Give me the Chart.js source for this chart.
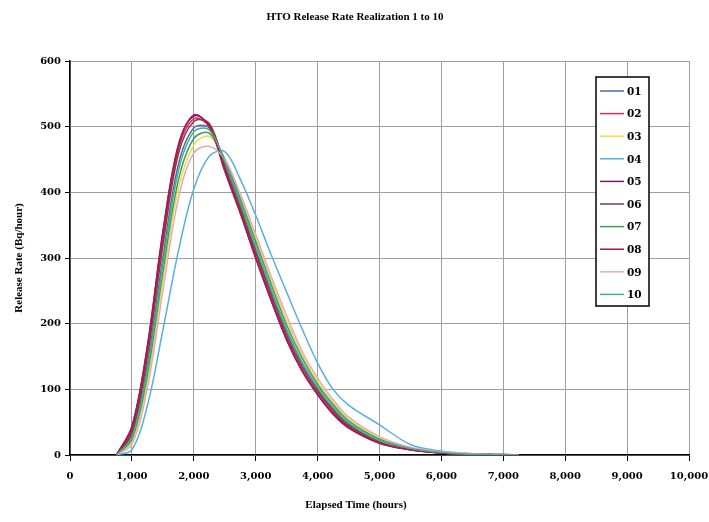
<!DOCTYPE html>
<html>
<head>
<meta charset="utf-8">
<script src="https://cdn.jsdelivr.net/npm/chart.js@4.4.1/dist/chart.umd.min.js"></script>
<style>
  html, body { margin: 0; padding: 0; background: #fff; }
  #wrap { width: 709px; height: 522px; position: relative; }
</style>
</head>
<body>
<div id="wrap"><canvas id="c"></canvas></div>
<script>
// elapsed time (hours), shared by all realizations
const times = [750, 1000, 1250, 1500, 1750, 2000, 2250, 2500, 2750, 3000, 3250, 3500, 3750, 4000, 4250, 4500, 5000, 5500, 6000, 6500, 7000, 7250];

const seriesNames = ['01', '02', '03', '04', '05', '06', '07', '08', '09', '10'];
const seriesColors = ['#4a6fa5', '#d0306a', '#e8e040', '#58b0e0', '#702070', '#8a3a3a', '#3aa060', '#b01850', '#e8a8b8', '#50a890'];

// release rate (Bq/hour) per realization
const r01 = [0, 30, 138, 300, 442, 498, 498, 445, 380, 312, 248, 187, 138, 100, 70, 47, 21, 9, 3, 1, 0, 0];
const r02 = [0, 38, 158, 328, 465, 512, 500, 436, 372, 303, 238, 178, 130, 94, 65, 43, 19, 8, 3, 1, 0, 0];
const r03 = [0, 20, 112, 265, 405, 472, 485, 452, 395, 330, 266, 205, 153, 112, 80, 55, 26, 11, 4, 1, 0, 0];
const r04 = [0, 8, 75, 190, 310, 405, 455, 462, 420, 365, 305, 248, 192, 140, 100, 76, 46, 16, 6, 2, 0, 0];
const r05 = [0, 42, 165, 338, 472, 516, 502, 435, 370, 300, 235, 175, 128, 92, 63, 42, 18, 8, 3, 1, 0, 0];
const r06 = [0, 34, 150, 318, 458, 508, 505, 440, 375, 308, 243, 182, 134, 97, 68, 45, 20, 9, 3, 1, 1, 0];
const r07 = [0, 24, 122, 278, 418, 482, 490, 450, 390, 325, 260, 198, 148, 108, 77, 52, 24, 10, 4, 1, 0, 0];
const r08 = [0, 44, 166, 340, 470, 518, 500, 432, 368, 300, 236, 176, 128, 92, 62, 41, 18, 8, 3, 1, 0, 0];
const r09 = [0, 16, 102, 250, 390, 460, 470, 450, 398, 336, 272, 212, 158, 117, 84, 58, 28, 12, 5, 2, 0, 0];
const r10 = [0, 27, 130, 290, 432, 492, 495, 447, 385, 318, 253, 192, 142, 104, 73, 49, 22, 10, 4, 1, 0, 0];
const seriesValues = [r01, r02, r03, r04, r05, r06, r07, r08, r09, r10];

const xTicks = [0, 1000, 2000, 3000, 4000, 5000, 6000, 7000, 8000, 9000, 10000];
const yTicks = [0, 100, 200, 300, 400, 500, 600];

const chartTitle = 'HTO Release Rate Realization 1 to 10';
const xTitle = 'Elapsed Time (hours)';
const yTitle = 'Release Rate (Bq/hour)';
const FONT = '"Liberation Serif", "Times New Roman", serif';
const TICK_FONT = '"DejaVu Serif", serif';

// chart title and x-axis title, both centred on the page like the original
const titlePlugin = {
  id: 'pageTitles',
  afterDraw(chart) {
    const ctx = chart.ctx;
    ctx.save();
    ctx.font = 'bold 11px ' + FONT;
    ctx.fillStyle = '#000';
    ctx.textAlign = 'center';
    ctx.textBaseline = 'middle';
    ctx.fillText(chartTitle, 355, 17);
    ctx.fillText(xTitle, 356, 505);
    ctx.restore();
  }
};

// boxed legend inside the plot, Excel style
const boxLegend = {
  id: 'boxLegend',
  afterDraw(chart) {
    const ctx = chart.ctx;
    const a = chart.chartArea;
    const left = a.right - 93;
    const top = a.top + 16;
    const w = 53, rowH = 22.6;
    const h = rowH * chart.data.datasets.length + 3;
    ctx.save();
    ctx.fillStyle = '#fff';
    ctx.fillRect(left, top, w, h);
    ctx.lineWidth = 1.5;
    ctx.strokeStyle = '#000';
    ctx.strokeRect(left, top, w, h);
    ctx.font = 'bold 10.5px ' + TICK_FONT;
    ctx.textBaseline = 'middle';
    ctx.textAlign = 'left';
    chart.data.datasets.forEach((ds, i) => {
      const y = top + 14 + i * rowH;
      ctx.beginPath();
      ctx.moveTo(left + 4, y);
      ctx.lineTo(left + 28, y);
      ctx.strokeStyle = ds.borderColor;
      ctx.lineWidth = 1.5;
      ctx.stroke();
      ctx.fillStyle = '#000';
      ctx.fillText(ds.label, left + 31, y + 1);
    });
    ctx.restore();
  }
};

const datasets = seriesNames.map((name, i) => ({
  label: name,
  data: times.map((t, j) => ({ x: t, y: seriesValues[i][j] })),
  borderColor: seriesColors[i],
  backgroundColor: seriesColors[i],
  borderWidth: 1.5,
  showLine: true,
  pointRadius: 0,
  tension: 0.35,
  order: seriesNames.length - i
}));

new Chart(document.getElementById('c').getContext('2d'), {
  type: 'scatter',
  plugins: [titlePlugin, boxLegend],
  data: { datasets },
  options: {
    responsive: true,
    maintainAspectRatio: false,
    animation: false,
    layout: { padding: { top: 61, right: 20, left: 0, bottom: 0 } },
    plugins: {
      legend: { display: false },
      tooltip: { enabled: false }
    },
    scales: {
      x: {
        type: 'linear',
        min: 0,
        max: 10000,
        afterBuildTicks: (s) => { s.ticks = xTicks.map(v => ({ value: v })); },
        afterFit: (s) => { s.height = 67; s.paddingLeft = 0; s.paddingRight = 0; },
        ticks: {
          color: '#000',
          font: { family: TICK_FONT, size: 10, weight: 'bold' },
          padding: 9,
          maxRotation: 0,
          callback: (v) => v.toLocaleString('en-US')
        },
        grid: { color: '#a0a0a0', lineWidth: 1, tickColor: '#000', tickLength: 6 },
        border: { color: '#000', width: 1.5 }
      },
      y: {
        min: 0,
        max: 600,
        afterBuildTicks: (s) => { s.ticks = yTicks.map(v => ({ value: v })); },
        afterFit: (s) => { s.width = 70; s.paddingTop = 0; s.paddingBottom = 0; },
        ticks: {
          color: '#000',
          font: { family: TICK_FONT, size: 10, weight: 'bold' },
          padding: 4
        },
        grid: { color: '#a0a0a0', lineWidth: 1, tickColor: '#000', tickLength: 5 },
        border: { color: '#000', width: 1.5 },
        title: {
          display: true,
          text: yTitle,
          color: '#000',
          font: { family: FONT, size: 11, weight: 'bold' },
          padding: { top: 13, bottom: 0 }
        }
      }
    }
  }
});
</script>
</body>
</html>
